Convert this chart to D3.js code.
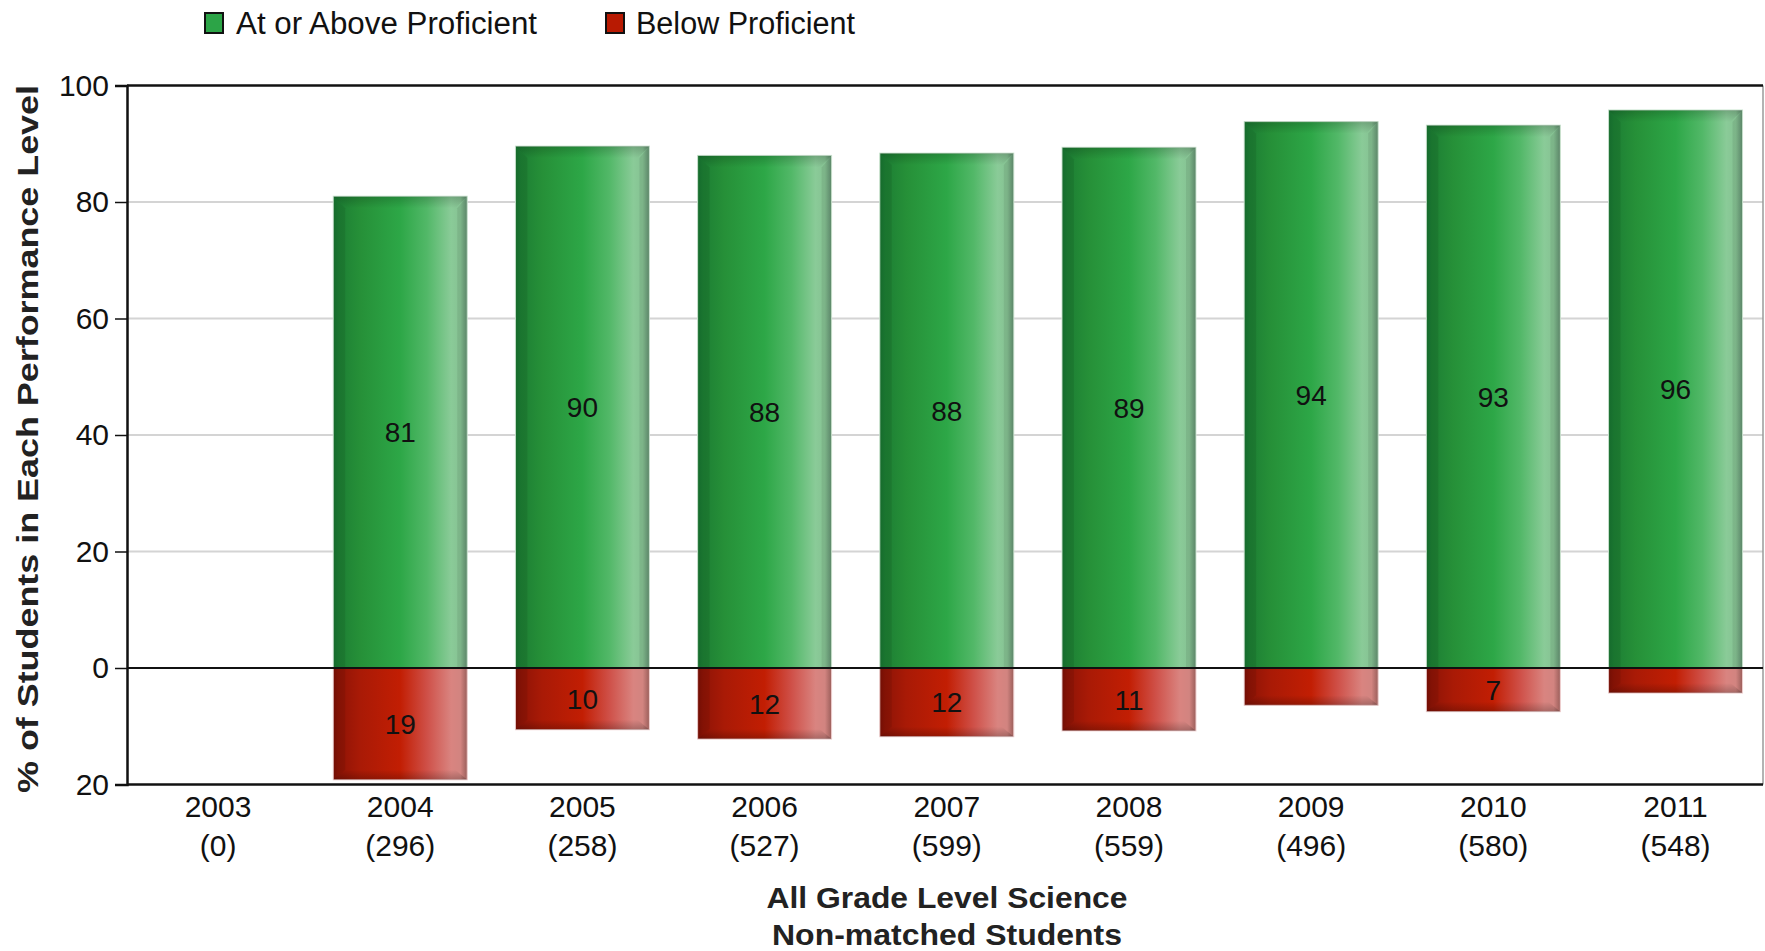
<!DOCTYPE html>
<html>
<head>
<meta charset="utf-8">
<script src="https://cdn.jsdelivr.net/npm/d3@7/dist/d3.min.js"></script>
<style>
  html, body { margin: 0; padding: 0; background: #fff; }
  svg { display: block; font-family: Arial, "Liberation Sans", sans-serif; }
</style>
</head>
<body>
<svg id="chart" width="1765" height="951"></svg>
<script>
// ---- data ----
const years = ["2003", "2004", "2005", "2006", "2007", "2008", "2009", "2010", "2011"];
const counts = ["(0)", "(296)", "(258)", "(527)", "(599)", "(559)", "(496)", "(580)", "(548)"];
const aboveProficient = [null, 81, 89.6, 88, 88.4, 89.4, 93.8, 93.2, 95.8];
const belowProficient = [null, 19.2, 10.6, 12.2, 11.8, 10.8, 6.4, 7.5, 4.3];
const aboveLabels = [null, "81", "90", "88", "88", "89", "94", "93", "96"];
const belowLabels = [null, "19", "10", "12", "12", "11", null, "7", null];
const yTicks = [100, 80, 60, 40, 20, 0, -20];
const seriesNames = ["At or Above Proficient", "Below Proficient"];
const xTitle = ["All Grade Level Science", "Non-matched Students"];
const yTitle = "% of Students in Each Performance Level";

// ---- layout ----
const svg = d3.select("#chart");
const plot = { left: 127, right: 1763, top: 85.5, bottom: 784.5 };

const x = d3.scaleBand().domain(years).range([plot.left, plot.right + 3.6])
  .paddingInner(0.2645).paddingOuter(0.132);
const y = d3.scaleLinear().domain([-20, 100]).range([plot.bottom, plot.top]);

// ---- gradients ----
const defs = svg.append("defs");
function hGrad(id, stops) {
  const g = defs.append("linearGradient").attr("id", id)
    .attr("x1", "0%").attr("x2", "100%").attr("y1", "0%").attr("y2", "0%");
  stops.forEach(s => g.append("stop").attr("offset", s[0]).attr("stop-color", s[1]));
}
hGrad("gGreen", [["0%", "#187530"], ["4%", "#1d7f34"], ["20%", "#269038"], ["50%", "#2da747"],
                 ["70%", "#52b868"], ["88%", "#8acb98"], ["95%", "#86c293"], ["100%", "#628f70"]]);
hGrad("gRed", [["0%", "#7d1005"], ["4%", "#8f1406"], ["20%", "#a91a06"], ["50%", "#c21e03"],
               ["70%", "#cf5048"], ["88%", "#d98480"], ["95%", "#d28480"], ["100%", "#9a5e5a"]]);
const vt = defs.append("linearGradient").attr("id", "bevelTop")
  .attr("x1", "0").attr("x2", "0").attr("y1", "0").attr("y2", "1");
vt.append("stop").attr("offset", "0%").attr("stop-color", "#000").attr("stop-opacity", 0.18);
vt.append("stop").attr("offset", "100%").attr("stop-color", "#000").attr("stop-opacity", 0);
const vb = defs.append("linearGradient").attr("id", "bevelBottom")
  .attr("x1", "0").attr("x2", "0").attr("y1", "0").attr("y2", "1");
vb.append("stop").attr("offset", "0%").attr("stop-color", "#000").attr("stop-opacity", 0);
vb.append("stop").attr("offset", "100%").attr("stop-color", "#000").attr("stop-opacity", 0.22);

// ---- gridlines ----
svg.append("g").selectAll("line").data([20, 40, 60, 80]).join("line")
  .attr("x1", plot.left).attr("x2", plot.right)
  .attr("y1", d => y(d)).attr("y2", d => y(d))
  .attr("stroke", "#d4d4d4").attr("stroke-width", 2);

// right border
svg.append("line").attr("x1", plot.right).attr("x2", plot.right)
  .attr("y1", plot.top).attr("y2", plot.bottom).attr("stroke", "#9a9a9a").attr("stroke-width", 1.5);

// ---- bars ----
const idx = d3.range(years.length);
const bw = x.bandwidth();
const barsG = svg.append("g");
idx.forEach(i => {
  const a = aboveProficient[i], b = belowProficient[i];
  const x0 = x(years[i]);
  if (a != null) {
    const yt = y(a), yb = y(0);
    barsG.append("rect").attr("x", x0).attr("y", yt).attr("width", bw).attr("height", yb - yt)
      .attr("fill", "url(#gGreen)").attr("stroke", "#cfe8d4").attr("stroke-width", 1);
    barsG.append("path")
      .attr("d", `M${x0},${yt} L${x0 + bw},${yt} L${x0 + bw - 12},${yt + 12} L${x0 + 12},${yt + 12} Z`)
      .attr("fill", "url(#bevelTop)");
    barsG.append("path")
      .attr("d", `M${x0},${yt} L${x0 + 12},${yt + 12} L${x0 + 12},${yb} L${x0},${yb} Z`)
      .attr("fill", "#000").attr("opacity", 0.08);
    barsG.append("path")
      .attr("d", `M${x0 + bw},${yt} L${x0 + bw - 10},${yt + 12} L${x0 + bw - 10},${yb} L${x0 + bw},${yb} Z`)
      .attr("fill", "#000").attr("opacity", 0.07);
  }
  if (b != null) {
    const yt = y(0), yb = y(-b);
    barsG.append("rect").attr("x", x0).attr("y", yt).attr("width", bw).attr("height", yb - yt)
      .attr("fill", "url(#gRed)").attr("stroke", "#f0d0d0").attr("stroke-width", 1);
    barsG.append("path")
      .attr("d", `M${x0},${yb} L${x0 + bw},${yb} L${x0 + bw - 12},${yb - 10} L${x0 + 12},${yb - 10} Z`)
      .attr("fill", "url(#bevelBottom)");
    barsG.append("path")
      .attr("d", `M${x0},${yt} L${x0 + 12},${yt} L${x0 + 12},${yb - 10} L${x0},${yb} Z`)
      .attr("fill", "#000").attr("opacity", 0.08);
  }
});

// ---- value labels ----
const labG = svg.append("g").attr("font-size", 28).attr("fill", "#111").attr("text-anchor", "middle");
idx.forEach(i => {
  const cx = x(years[i]) + bw / 2;
  if (aboveLabels[i]) {
    labG.append("text").attr("x", cx).attr("y", (y(aboveProficient[i]) + y(0)) / 2)
      .attr("dy", "0.36em").text(aboveLabels[i]);
  }
  if (belowLabels[i]) {
    labG.append("text").attr("x", cx).attr("y", (y(0) + y(-belowProficient[i])) / 2)
      .attr("dy", "0.36em").text(belowLabels[i]);
  }
});

// ---- frame lines ----
svg.append("line").attr("x1", plot.left).attr("x2", plot.right)
  .attr("y1", y(0)).attr("y2", y(0)).attr("stroke", "#111").attr("stroke-width", 2);
svg.append("line").attr("x1", plot.left).attr("x2", plot.right)
  .attr("y1", plot.top).attr("y2", plot.top).attr("stroke", "#111").attr("stroke-width", 2.5);
svg.append("line").attr("x1", plot.left).attr("x2", plot.right)
  .attr("y1", plot.bottom).attr("y2", plot.bottom).attr("stroke", "#111").attr("stroke-width", 2.5);

// ---- y axis ----
const yAxis = d3.axisLeft(y).tickValues(yTicks).tickFormat(d => Math.abs(d)).tickSize(12).tickPadding(6);
const yg = svg.append("g").attr("transform", `translate(${plot.left},0)`).call(yAxis);
yg.select(".domain").attr("stroke", "#111").attr("stroke-width", 2.5);
yg.selectAll(".tick line").attr("stroke", "#111").attr("stroke-width", 1.5);
yg.selectAll(".tick text").attr("font-size", 30).attr("fill", "#111")
  .attr("font-family", "Arial, 'Liberation Sans', sans-serif");

// ---- x axis labels ----
const xg = svg.append("g").attr("font-size", 30).attr("fill", "#111").attr("text-anchor", "middle");
idx.forEach(i => {
  const cx = x(years[i]) + bw / 2;
  xg.append("text").attr("x", cx).attr("y", 817).text(years[i]);
  xg.append("text").attr("x", cx).attr("y", 856).text(counts[i]);
});

// ---- axis titles ----
const cxPlot = (plot.left + plot.right) / 2;
svg.append("g").attr("font-size", 29).attr("font-weight", "bold").attr("fill", "#222")
  .attr("text-anchor", "middle")
  .selectAll("text").data(xTitle).join("text")
  .attr("x", cxPlot + 2).attr("y", (d, i) => 908 + i * 37)
  .attr("textLength", (d, i) => i === 0 ? 361 : 350).attr("lengthAdjust", "spacingAndGlyphs")
  .text(d => d);

svg.append("text").attr("transform", `translate(38,439) rotate(-90)`)
  .attr("font-size", 30).attr("font-weight", "bold").attr("fill", "#222")
  .attr("text-anchor", "middle").attr("textLength", 708).attr("lengthAdjust", "spacingAndGlyphs")
  .text(yTitle);

// ---- legend ----
const legend = svg.append("g");
const legendItems = [
  { name: seriesNames[0], color: "#2ca447", sx: 205, tx: 236, tl: 301 },
  { name: seriesNames[1], color: "#b81a02", sx: 606, tx: 636, tl: 219 }
];
legendItems.forEach(it => {
  legend.append("rect").attr("x", it.sx).attr("y", 13).attr("width", 18).attr("height", 20)
    .attr("fill", it.color).attr("stroke", "#111").attr("stroke-width", 2);
  legend.append("text").attr("x", it.tx).attr("y", 34).attr("font-size", 31).attr("fill", "#111")
    .attr("textLength", it.tl).attr("lengthAdjust", "spacingAndGlyphs").text(it.name);
});
</script>
</body>
</html>
